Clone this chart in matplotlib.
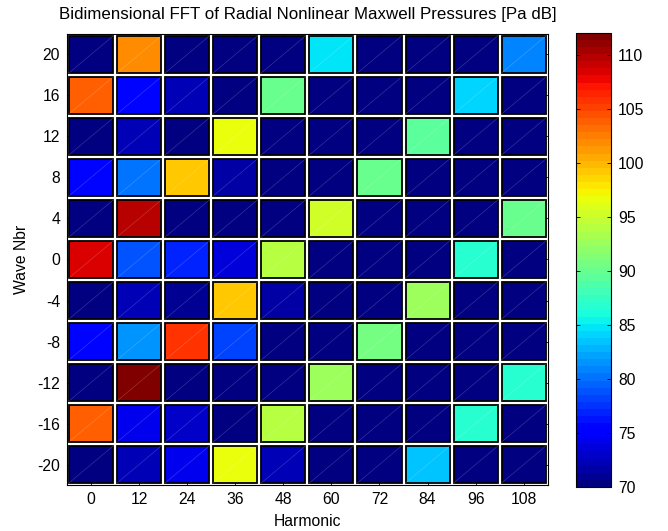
import matplotlib
matplotlib.use("Agg")
import matplotlib.pyplot as plt
import numpy as np
from matplotlib.colors import Normalize
from matplotlib.cm import ScalarMappable

plt.rcParams['font.family'] = ['Liberation Sans', 'DejaVu Sans']
plt.rcParams['font.size'] = 11.3
plt.rcParams['axes.unicode_minus'] = False

harmonics = [0, 12, 24, 36, 48, 60, 72, 84, 96, 108]
wave_nbrs = [20, 16, 12, 8, 4, 0, -4, -8, -12, -16, -20]

# pressure level [dB], one row per wave number (top to bottom), one column per harmonic
pressure_db = [
    [70.3, 101.5, 70.3, 70.3, 70.3, 85.0, 70.3, 70.3, 70.3, 80.5],
    [104.1, 75.3, 72.6, 70.3, 90.0, 70.3, 70.3, 70.3, 84.3, 70.3],
    [70.3, 72.2, 70.5, 96.3, 70.3, 70.3, 70.3, 89.3, 70.3, 70.3],
    [75.3, 80.0, 99.5, 71.7, 70.3, 70.3, 90.0, 70.3, 70.3, 70.3],
    [70.3, 110.0, 70.5, 70.3, 70.3, 95.0, 70.3, 70.3, 70.3, 90.0],
    [108.2, 78.7, 76.9, 73.8, 94.2, 70.3, 70.3, 70.3, 86.8, 70.3],
    [70.3, 72.2, 71.0, 99.5, 71.7, 70.3, 70.3, 92.4, 70.3, 70.3],
    [75.8, 81.6, 105.5, 77.9, 70.3, 70.3, 90.7, 70.3, 70.3, 70.3],
    [70.3, 111.5, 70.3, 70.3, 70.3, 92.4, 70.3, 70.3, 70.3, 86.6],
    [103.9, 74.5, 73.1, 70.3, 93.8, 70.3, 70.3, 70.3, 86.8, 70.3],
    [70.3, 72.6, 74.3, 96.9, 72.2, 70.3, 70.3, 83.7, 70.3, 70.3],
]

cmap = plt.get_cmap('jet', 64)
norm = Normalize(vmin=70, vmax=112)

fig = plt.figure(figsize=(6.68, 5.31), dpi=100)
ax = fig.add_axes([0.1003, 0.0866, 0.7197, 0.8494])

cell_w = 11.0
cell_h = 3.6
for i, wn in enumerate(wave_nbrs):
    vals = np.array(pressure_db[i])
    ax.bar(harmonics, [cell_h] * len(harmonics), width=cell_w,
           bottom=wn - cell_h / 2, color=cmap(norm(vals)),
           edgecolor='black', linewidth=1.3, zorder=2)
    # faint diagonal artefact of the surface patches
    for h in harmonics:
        ax.plot([h - cell_w / 2, h + cell_w / 2], [wn - cell_h / 2, wn + cell_h / 2],
                color='white', alpha=0.2, linewidth=0.5, zorder=3)

ax.set_xlim(-6, 114)
ax.set_ylim(-22, 22)
ax.set_xticks(harmonics)
ax.set_yticks(wave_nbrs)
ax.tick_params(direction='in', top=True, right=True, length=4, width=0.6, pad=5)
for s in ax.spines.values():
    s.set_linewidth(0.8)

ax.set_xlabel('Harmonic', labelpad=5)
ax.set_ylabel('Wave Nbr', labelpad=6)
ax.set_title('Bidimensional FFT of Radial Nonlinear Maxwell Pressures [Pa dB]',
             fontsize=12.2, pad=11)

cax = fig.add_axes([0.862, 0.083, 0.053, 0.855])
sm = ScalarMappable(norm=norm, cmap=cmap)
cb = fig.colorbar(sm, cax=cax, ticks=[70, 75, 80, 85, 90, 95, 100, 105, 110])
cb.ax.tick_params(direction='in', left=True, right=True, length=3, width=0.6, pad=5)
cb.outline.set_linewidth(0.8)

fig.savefig('out.png', dpi=100)
